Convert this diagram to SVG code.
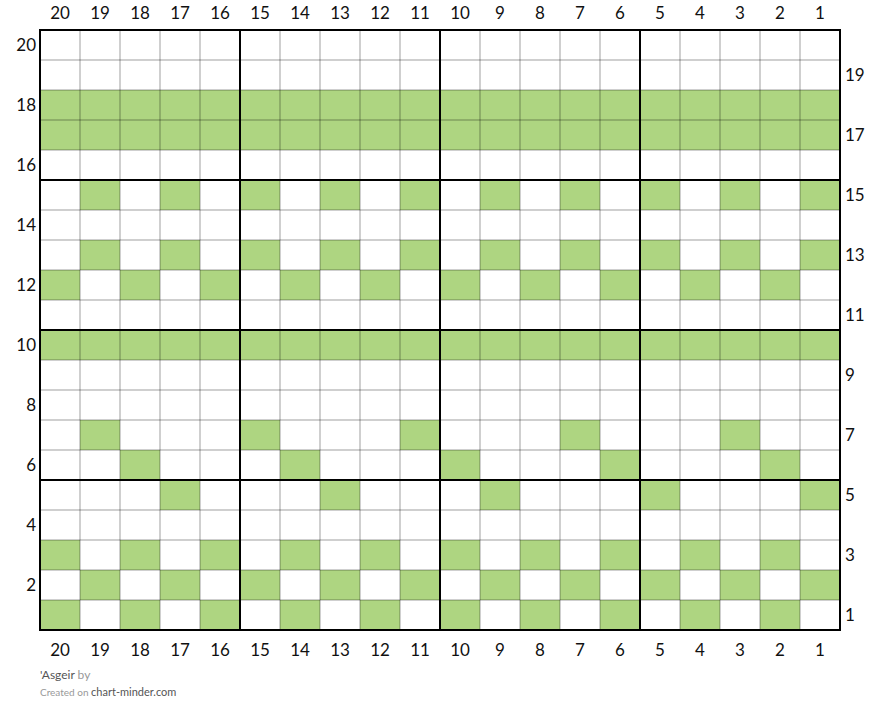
<svg xmlns="http://www.w3.org/2000/svg" width="880" height="723" viewBox="0 0 880 723">
<style>
.g{fill:#aed581}
.thin{stroke:#000;stroke-opacity:0.38;stroke-width:1}
.thick{stroke:#000;stroke-width:2}
.n{font-family:Lato,"Open Sans",sans-serif;font-size:17px;fill:#111}
.c{text-anchor:middle}
.l{text-anchor:end}
.f1{font-family:Lato,sans-serif;font-size:12px;fill:#555}
.f2{font-family:Lato,sans-serif;font-size:12px;fill:#999}
.f3{font-family:Lato,sans-serif;font-size:10px;fill:#999}
.f4{font-family:Lato,sans-serif;font-size:11px;fill:#555}
</style>
<rect x="0" y="0" width="880" height="723" fill="#fff"/>
<g id="cells">
<rect class="g" x="40" y="90" width="800" height="60"/>
<rect class="g" x="40" y="330" width="800" height="30"/>
<g id="row15">
<rect class="g" x="80" y="180" width="40" height="30"/><rect class="g" x="160" y="180" width="40" height="30"/><rect class="g" x="240" y="180" width="40" height="30"/><rect class="g" x="320" y="180" width="40" height="30"/><rect class="g" x="400" y="180" width="40" height="30"/><rect class="g" x="480" y="180" width="40" height="30"/><rect class="g" x="560" y="180" width="40" height="30"/><rect class="g" x="640" y="180" width="40" height="30"/><rect class="g" x="720" y="180" width="40" height="30"/><rect class="g" x="800" y="180" width="40" height="30"/>
</g>
<g id="row13">
<rect class="g" x="80" y="240" width="40" height="30"/><rect class="g" x="160" y="240" width="40" height="30"/><rect class="g" x="240" y="240" width="40" height="30"/><rect class="g" x="320" y="240" width="40" height="30"/><rect class="g" x="400" y="240" width="40" height="30"/><rect class="g" x="480" y="240" width="40" height="30"/><rect class="g" x="560" y="240" width="40" height="30"/><rect class="g" x="640" y="240" width="40" height="30"/><rect class="g" x="720" y="240" width="40" height="30"/><rect class="g" x="800" y="240" width="40" height="30"/>
</g>
<g id="row12">
<rect class="g" x="40" y="270" width="40" height="30"/><rect class="g" x="120" y="270" width="40" height="30"/><rect class="g" x="200" y="270" width="40" height="30"/><rect class="g" x="280" y="270" width="40" height="30"/><rect class="g" x="360" y="270" width="40" height="30"/><rect class="g" x="440" y="270" width="40" height="30"/><rect class="g" x="520" y="270" width="40" height="30"/><rect class="g" x="600" y="270" width="40" height="30"/><rect class="g" x="680" y="270" width="40" height="30"/><rect class="g" x="760" y="270" width="40" height="30"/>
</g>
<g id="row7">
<rect class="g" x="80" y="420" width="40" height="30"/><rect class="g" x="240" y="420" width="40" height="30"/><rect class="g" x="400" y="420" width="40" height="30"/><rect class="g" x="560" y="420" width="40" height="30"/><rect class="g" x="720" y="420" width="40" height="30"/>
</g>
<g id="row6">
<rect class="g" x="120" y="450" width="40" height="30"/><rect class="g" x="280" y="450" width="40" height="30"/><rect class="g" x="440" y="450" width="40" height="30"/><rect class="g" x="600" y="450" width="40" height="30"/><rect class="g" x="760" y="450" width="40" height="30"/>
</g>
<g id="row5">
<rect class="g" x="160" y="480" width="40" height="30"/><rect class="g" x="320" y="480" width="40" height="30"/><rect class="g" x="480" y="480" width="40" height="30"/><rect class="g" x="640" y="480" width="40" height="30"/><rect class="g" x="800" y="480" width="40" height="30"/>
</g>
<g id="row3">
<rect class="g" x="40" y="540" width="40" height="30"/><rect class="g" x="120" y="540" width="40" height="30"/><rect class="g" x="200" y="540" width="40" height="30"/><rect class="g" x="280" y="540" width="40" height="30"/><rect class="g" x="360" y="540" width="40" height="30"/><rect class="g" x="440" y="540" width="40" height="30"/><rect class="g" x="520" y="540" width="40" height="30"/><rect class="g" x="600" y="540" width="40" height="30"/><rect class="g" x="680" y="540" width="40" height="30"/><rect class="g" x="760" y="540" width="40" height="30"/>
</g>
<g id="row2">
<rect class="g" x="80" y="570" width="40" height="30"/><rect class="g" x="160" y="570" width="40" height="30"/><rect class="g" x="240" y="570" width="40" height="30"/><rect class="g" x="320" y="570" width="40" height="30"/><rect class="g" x="400" y="570" width="40" height="30"/><rect class="g" x="480" y="570" width="40" height="30"/><rect class="g" x="560" y="570" width="40" height="30"/><rect class="g" x="640" y="570" width="40" height="30"/><rect class="g" x="720" y="570" width="40" height="30"/><rect class="g" x="800" y="570" width="40" height="30"/>
</g>
<g id="row1">
<rect class="g" x="40" y="600" width="40" height="30"/><rect class="g" x="120" y="600" width="40" height="30"/><rect class="g" x="200" y="600" width="40" height="30"/><rect class="g" x="280" y="600" width="40" height="30"/><rect class="g" x="360" y="600" width="40" height="30"/><rect class="g" x="440" y="600" width="40" height="30"/><rect class="g" x="520" y="600" width="40" height="30"/><rect class="g" x="600" y="600" width="40" height="30"/><rect class="g" x="680" y="600" width="40" height="30"/><rect class="g" x="760" y="600" width="40" height="30"/>
</g>
</g>
<g id="gridlines">
<path class="thin" d="M80 30V630M120 30V630M160 30V630M200 30V630M280 30V630M320 30V630M360 30V630M400 30V630M480 30V630M520 30V630M560 30V630M600 30V630M680 30V630M720 30V630M760 30V630M800 30V630"/>
<path class="thin" d="M40 60H840M40 90H840M40 120H840M40 150H840M40 210H840M40 240H840M40 270H840M40 300H840M40 360H840M40 390H840M40 420H840M40 450H840M40 510H840M40 540H840M40 570H840M40 600H840"/>
<path class="thick" d="M40 30V630M240 30V630M440 30V630M640 30V630M840 30V630M39 30H841M39 180H841M39 330H841M39 480H841M39 630H841"/>
</g>
<g id="top-labels" class="n c">
<text x="60" y="19">20</text><text x="100" y="19">19</text><text x="140" y="19">18</text><text x="180" y="19">17</text><text x="220" y="19">16</text><text x="260" y="19">15</text><text x="300" y="19">14</text><text x="340" y="19">13</text><text x="380" y="19">12</text><text x="420" y="19">11</text><text x="460" y="19">10</text><text x="500" y="19">9</text><text x="540" y="19">8</text><text x="580" y="19">7</text><text x="620" y="19">6</text><text x="660" y="19">5</text><text x="700" y="19">4</text><text x="740" y="19">3</text><text x="780" y="19">2</text><text x="820" y="19">1</text>
</g>
<g id="bottom-labels" class="n c">
<text x="60" y="656">20</text><text x="100" y="656">19</text><text x="140" y="656">18</text><text x="180" y="656">17</text><text x="220" y="656">16</text><text x="260" y="656">15</text><text x="300" y="656">14</text><text x="340" y="656">13</text><text x="380" y="656">12</text><text x="420" y="656">11</text><text x="460" y="656">10</text><text x="500" y="656">9</text><text x="540" y="656">8</text><text x="580" y="656">7</text><text x="620" y="656">6</text><text x="660" y="656">5</text><text x="700" y="656">4</text><text x="740" y="656">3</text><text x="780" y="656">2</text><text x="820" y="656">1</text>
</g>
<g id="left-labels" class="n l">
<text x="36" y="51">20</text><text x="36" y="111">18</text><text x="36" y="171">16</text><text x="36" y="231">14</text><text x="36" y="291">12</text><text x="36" y="351">10</text><text x="36" y="411">8</text><text x="36" y="471">6</text><text x="36" y="531">4</text><text x="36" y="591">2</text>
</g>
<g id="right-labels" class="n">
<text x="845" y="81">19</text><text x="845" y="141">17</text><text x="845" y="201">15</text><text x="845" y="261">13</text><text x="845" y="321">11</text><text x="845" y="381">9</text><text x="845" y="441">7</text><text x="845" y="501">5</text><text x="845" y="561">3</text><text x="845" y="621">1</text>
</g>
<g id="footer">
<text x="40" y="679"><tspan class="f1">'Asgeir</tspan><tspan class="f2"> by</tspan></text>
<text x="40" y="696"><tspan class="f3">Created on </tspan><tspan class="f4">chart-minder.com</tspan></text>
</g>
</svg>
